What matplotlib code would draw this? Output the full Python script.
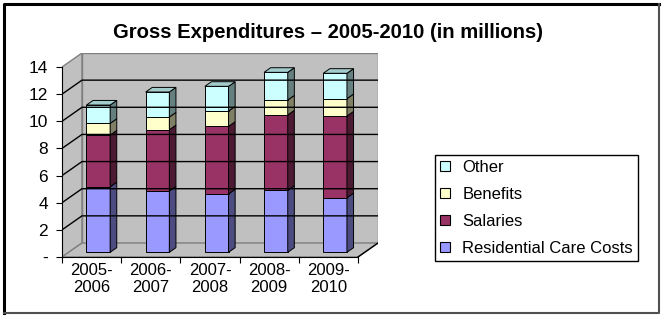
import matplotlib.pyplot as plt
from matplotlib.patches import Polygon, Patch
from matplotlib.lines import Line2D

plt.rcParams['font.family'] = ['Liberation Sans', 'DejaVu Sans']

# data (millions)
years = ['2005-\n2006', '2006-\n2007', '2007-\n2008', '2008-\n2009', '2009-\n2010']
residential = [4.83, 4.52, 4.30, 4.57, 4.02]
salaries = [3.81, 4.51, 4.98, 5.55, 6.02]
benefits = [0.86, 0.94, 1.13, 1.10, 1.28]
other = [1.35, 1.84, 1.82, 2.04, 1.87]

series = [
    ('Residential Care Costs', residential, '#9999FF', '#4C4C80', '#7A7ACC'),
    ('Salaries', salaries, '#993366', '#4D1A33', '#7A2952'),
    ('Benefits', benefits, '#FFFFCC', '#808066', '#CCCCA3'),
    ('Other', other, '#CCFFFF', '#668080', '#A3CCCC'),
]

fig = plt.figure(figsize=(6.62, 3.16), dpi=100)

# outer frame: dark top/left, grey bottom/right
W, H = 662, 316
fig.add_artist(Line2D([4 / W, 4 / W, 659 / W], [3 / H, 312 / H, 312 / H], transform=fig.transFigure,
                      color='black', lw=2.2))
fig.add_artist(Line2D([4 / W, 659 / W, 659 / W], [3.5 / H, 3.5 / H, 312 / H], transform=fig.transFigure,
                      color='#505050', lw=1.5))

fig.text(0.495, 0.897, 'Gross Expenditures \u2013 2005-2010 (in millions)',
         ha='center', va='center', fontsize=14.6, fontweight='bold')

# depth of the 3d box in data units
n = len(years)
ymax = 14
DX = 20 / 59.2
DY = 14 / 13.57
bw = 0.4
bdx, bdy = DX * 0.33, DY * 0.33      # bar depth
ox, oy = (DX - bdx) / 2, (DY - bdy) / 2  # bars sit in the middle of the depth

ax = fig.add_axes([62 / W, (H - 257) / H, 316 / W, 204 / H])
ax.set_xlim(0, n + DX)
ax.set_ylim(0, ymax + DY)
ax.patch.set_visible(False)

wall = '#C0C0C0'
edge = '#808080'
ax.add_patch(Polygon([(0, 0), (DX, DY), (DX, ymax + DY), (0, ymax)], facecolor=wall, edgecolor=edge, lw=1))
ax.add_patch(Polygon([(DX, DY), (n + DX, DY), (n + DX, ymax + DY), (DX, ymax + DY)],
                     facecolor=wall, edgecolor=edge, lw=1))
ax.add_patch(Polygon([(0, 0), (n, 0), (n + DX, DY), (DX, DY)], facecolor=wall, edgecolor=edge, lw=1))
ax.plot([n, n + DX], [0, DY], color='black', lw=1)

for v in range(2, ymax, 2):
    ax.plot([0, DX, n + DX], [v, v + DY, v + DY], color='black', lw=1)

# stacked bars with side and top faces
for i in range(n):
    x0 = i + 0.5 - bw / 2 + ox
    base = 0
    for name, vals, front, side, top in series:
        h = vals[i]
        ax.bar(x0, h, width=bw, bottom=base + oy, align='edge', color=front, edgecolor='black', lw=0.7)
        ax.add_patch(Polygon([(x0 + bw, base + oy), (x0 + bw + bdx, base + oy + bdy),
                              (x0 + bw + bdx, base + h + oy + bdy), (x0 + bw, base + h + oy)],
                             facecolor=side, edgecolor='black', lw=0.7))
        base += h
    ax.add_patch(Polygon([(x0, base + oy), (x0 + bw, base + oy), (x0 + bw + bdx, base + oy + bdy),
                          (x0 + bdx, base + oy + bdy)], facecolor=series[-1][4], edgecolor='black', lw=0.7))

# front axes
for s in ['top', 'right']:
    ax.spines[s].set_visible(False)
ax.spines['left'].set_bounds(0, ymax)
ax.spines['bottom'].set_bounds(0, n)
ax.set_yticks(range(0, ymax + 1, 2))
ax.set_yticklabels(['-'] + [str(v) for v in range(2, ymax + 1, 2)])
ax.set_xticks(range(n + 1))
ax.set_xticklabels([])
ax.set_xticks([i + 0.5 for i in range(n)], minor=True)
ax.set_xticklabels(years, minor=True)
ax.tick_params(axis='x', which='minor', length=0, pad=4, labelsize=12)
ax.tick_params(axis='x', which='major', length=4, direction='out')
ax.tick_params(axis='y', length=4, labelsize=12.5, pad=6)

handles = [Patch(facecolor=c, edgecolor='black', lw=0.8, label=name) for name, _, c, _, _ in reversed(series)]
fig.legend(handles=handles, loc='upper left', bbox_to_anchor=(435 / W, 1 - 155 / H), borderaxespad=0,
           frameon=True, fancybox=False, edgecolor='black', fontsize=12, labelspacing=0.72,
           handlelength=0.6, handleheight=0.6, handletextpad=0.75, borderpad=0.3, framealpha=1)

fig.savefig('out.png', dpi=100)
